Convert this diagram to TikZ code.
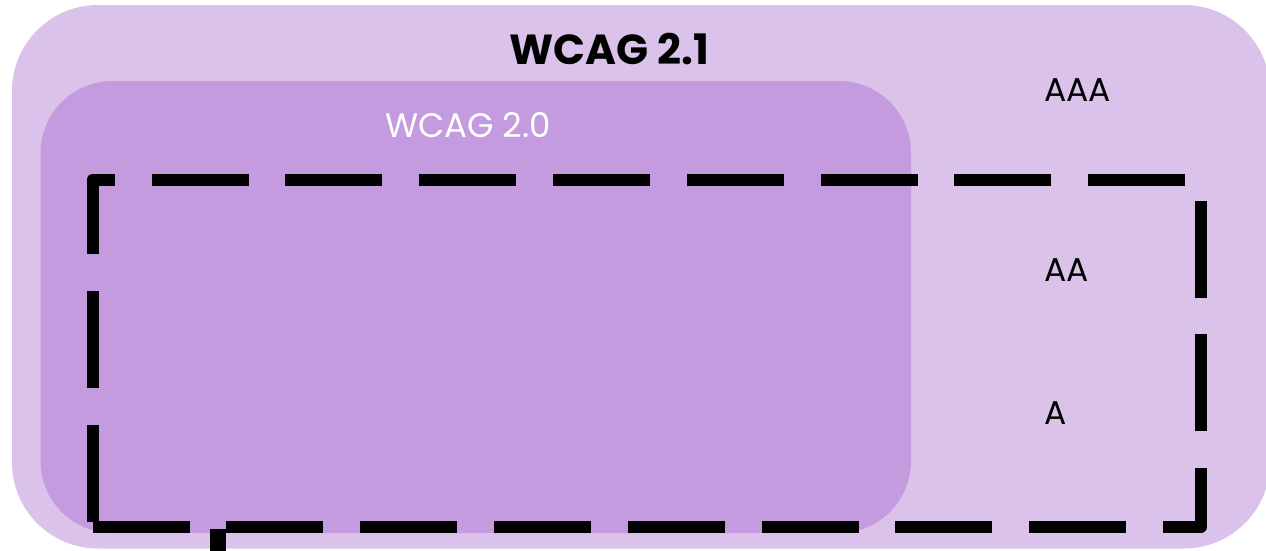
\documentclass[tikz,border=0pt]{standalone}
\usepackage{fontspec}
\setmainfont{Poppins}
\definecolor{outerfill}{RGB}{218,194,234}
\definecolor{innerfill}{RGB}{196,155,223}
\tikzset{
  panel/.style={draw=none},
  levellabel/.style={inner sep=0pt, anchor=base west, font=\fontsize{33}{36}\selectfont, text=black},
  dashframe/.style={line width=12pt, line join=round, dash pattern=on 97pt off 36.8pt},
}
\begin{document}
\begin{tikzpicture}[x=1pt,y=-1pt]
\useasboundingbox (0,0) rectangle (1266,550);
\clip (0,0) rectangle (1266,550);
% outer WCAG 2.1 panel
\fill[panel, outerfill, rounded corners=86pt] (12,5) rectangle (1270,548.5);
% inner WCAG 2.0 panel
\fill[panel, innerfill, rounded corners=72pt] (40.5,81) rectangle (911,533);
% titles
\node[inner sep=0pt, anchor=base, font=\fontsize{42}{46}\selectfont\bfseries] (t21) at (609,64.3) {WCAG 2.1};
\node[inner sep=0pt, anchor=base, font=\fontsize{34}{38}\selectfont, text=white] (t20) at (468,137.3) {WCAG 2.0};
% levels
\node[levellabel] (aaa) at (1044,101.7) {AAA};
\node[levellabel] (aa) at (1044.5,281.3) {AA};
\node[levellabel] (a) at (1044.5,424.3) {A};
% dashed frame
\coordinate (bl) at (92.5,527);
\coordinate (br) at (1201,527);
\coordinate (tr) at (1201,179.5);
\coordinate (tl) at (92.5,179.5);
\draw[dashframe] (bl) -- (br) -- (tr) -- (tl) -- cycle;
% stub leaving downward
\coordinate (stubtop) at (218,529);
\coordinate (stubbot) at (218,556);
\draw[line width=16pt] (stubtop) -- (stubbot);
\end{tikzpicture}
\end{document}
